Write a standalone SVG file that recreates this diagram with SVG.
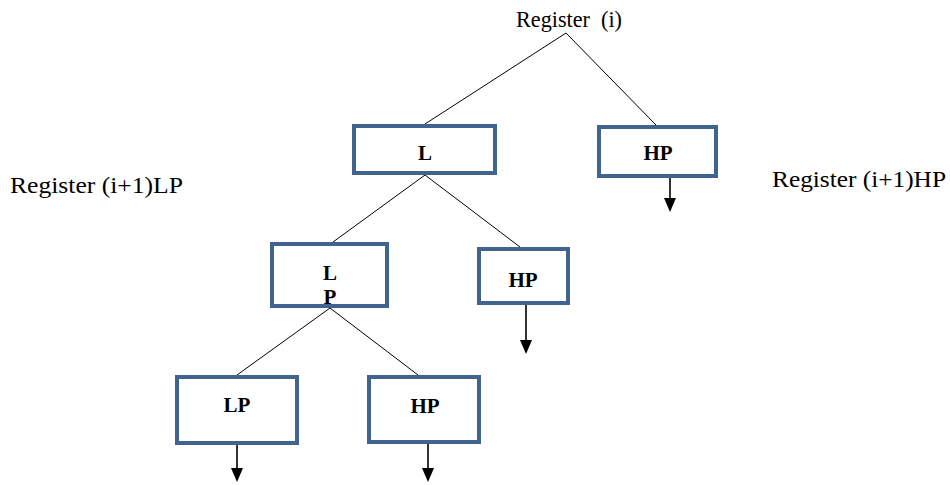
<svg xmlns="http://www.w3.org/2000/svg" width="950" height="485" viewBox="0 0 950 485">
<style>
.box{fill:#fff;stroke:#41648f;stroke-width:4}
.lbl{font-size:21px;font-weight:bold;text-anchor:middle;fill:#000}
.txt{font-size:23px;fill:#000}
.ln{stroke:#000;stroke-width:1;fill:none}
.ar{stroke:#000;stroke-width:1.6;fill:none}
.ah{fill:#000}
</style>
<g font-family="'Liberation Serif', 'Times New Roman', serif">
<text class="txt" x="516" y="27" textLength="106" lengthAdjust="spacingAndGlyphs" xml:space="preserve">Register  (i)</text>
<text class="txt" x="10" y="193" textLength="173" lengthAdjust="spacingAndGlyphs">Register (i+1)LP</text>
<text class="txt" x="772" y="187" textLength="174" lengthAdjust="spacingAndGlyphs">Register (i+1)HP</text>
<g id="connectors">
<line class="ln" x1="566" y1="33" x2="425" y2="124"/>
<line class="ln" x1="566" y1="33" x2="656" y2="125"/>
<line class="ln" x1="425" y1="175" x2="333" y2="242"/>
<line class="ln" x1="425" y1="175" x2="520" y2="247"/>
<line class="ln" x1="330" y1="308" x2="237" y2="375"/>
<line class="ln" x1="330" y1="308" x2="418" y2="375"/>
<line class="ar" x1="670" y1="165" x2="670" y2="200"/>
<polygon class="ah" points="664,198 676,198 670,212"/>
<line class="ar" x1="526" y1="305" x2="526" y2="342"/>
<polygon class="ah" points="520,340 532,340 526,354"/>
<line class="ar" x1="237" y1="433" x2="237" y2="470"/>
<polygon class="ah" points="231,468 243,468 237,482"/>
<line class="ar" x1="428" y1="440" x2="428" y2="470"/>
<polygon class="ah" points="422,468 434,468 428,482"/>
</g>
<g id="n-L"><rect class="box" x="354" y="126" width="141" height="47"/><text class="lbl" x="425" y="160">L</text></g>
<g id="n-HP1"><rect class="box" x="599" y="127" width="117" height="49"/><text class="lbl" x="658" y="160">HP</text></g>
<g id="n-LP"><rect class="box" x="272" y="244" width="115" height="62"/><text class="lbl" x="330" y="280">L</text><text class="lbl" x="330" y="304">P</text></g>
<g id="n-HP2"><rect class="box" x="479" y="249" width="89" height="54"/><text class="lbl" x="523" y="287">HP</text></g>
<g id="n-LP2"><rect class="box" x="177" y="377" width="120" height="66"/><text class="lbl" x="237" y="412">LP</text></g>
<g id="n-HP3"><rect class="box" x="369" y="377" width="110" height="65"/><text class="lbl" x="425" y="413">HP</text></g>
</g>
</svg>
